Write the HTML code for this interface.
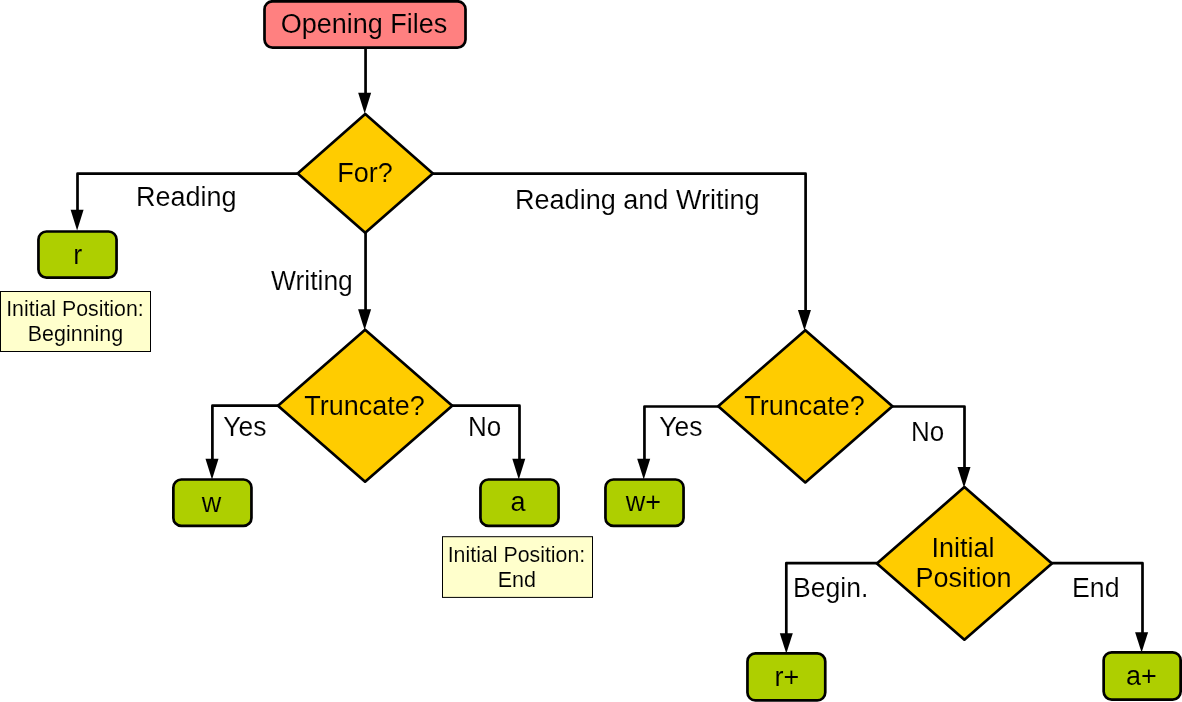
<!DOCTYPE html>
<html><head><meta charset="utf-8"><title>Opening Files</title>
<style>
html,body{margin:0;padding:0;background:#fff;}
body{width:1182px;height:702px;overflow:hidden;}
svg{display:block;will-change:transform;}
text{font-family:"Liberation Sans",sans-serif;fill:#000;}
</style></head><body>
<svg width="1182" height="702" viewBox="0 0 1182 702">
<rect x="0" y="0" width="1182" height="702" fill="#fff"/>
<polyline points="365.56,48 365.56,100" fill="none" stroke="#000" stroke-width="2.7" stroke-linejoin="round"/>
<polygon points="358.15,92.80 371.15,92.80 364.65,113.40" fill="#000"/>
<polyline points="297,173.7 77.5,173.7 77.5,215" fill="none" stroke="#000" stroke-width="2.7" stroke-linejoin="round"/>
<polygon points="70.60,209.80 83.60,209.80 77.10,230.40" fill="#000"/>
<polyline points="365.56,232 365.56,315" fill="none" stroke="#000" stroke-width="2.7" stroke-linejoin="round"/>
<polygon points="358.10,309.30 371.10,309.30 364.60,329.90" fill="#000"/>
<polyline points="433,173.7 805.6,173.7 805.6,315" fill="none" stroke="#000" stroke-width="2.7" stroke-linejoin="round"/>
<polygon points="797.95,310.00 810.95,310.00 804.45,330.60" fill="#000"/>
<polyline points="278,405.7 212.4,405.7 212.4,465" fill="none" stroke="#000" stroke-width="2.7" stroke-linejoin="round"/>
<polygon points="205.50,458.80 218.50,458.80 212.00,479.40" fill="#000"/>
<polyline points="452,405.7 519.5,405.7 519.5,465" fill="none" stroke="#000" stroke-width="2.7" stroke-linejoin="round"/>
<polygon points="512.30,458.80 525.30,458.80 518.80,479.40" fill="#000"/>
<polyline points="718,406.5 644.45,406.5 644.45,465" fill="none" stroke="#000" stroke-width="2.7" stroke-linejoin="round"/>
<polygon points="637.20,458.80 650.20,458.80 643.70,479.40" fill="#000"/>
<polyline points="892,406.5 964.5,406.5 964.5,472" fill="none" stroke="#000" stroke-width="2.7" stroke-linejoin="round"/>
<polygon points="957.50,467.10 970.50,467.10 964.00,487.70" fill="#000"/>
<polyline points="877,563.2 786.3,563.2 786.3,640" fill="none" stroke="#000" stroke-width="2.7" stroke-linejoin="round"/>
<polygon points="779.80,633.20 792.80,633.20 786.30,653.40" fill="#000"/>
<polyline points="1051,563.2 1142.5,563.2 1142.5,638" fill="none" stroke="#000" stroke-width="2.7" stroke-linejoin="round"/>
<polygon points="1135.10,632.30 1148.10,632.30 1141.60,652.50" fill="#000"/>
<rect x="264.5" y="1.3" width="201" height="46.3" rx="8" ry="8" fill="#ff8080" stroke="#000" stroke-width="2.7"/>
<text x="364" y="33" font-size="27" text-anchor="middle" stroke="#ff8080" stroke-width="0.12">Opening Files</text>
<polygon points="365.25,114.0 432.85,173.4 365.25,232.8 297.65,173.4" fill="#ffcc00" stroke="#000" stroke-width="2.7" stroke-linejoin="round"/>
<text x="365" y="182" font-size="27" text-anchor="middle" stroke="#ffcc00" stroke-width="0.12">For?</text>
<polygon points="365.1,329.7 452.20000000000005,405.7 365.1,481.7 278.0,405.7" fill="#ffcc00" stroke="#000" stroke-width="2.7" stroke-linejoin="round"/>
<text x="364.5" y="415" font-size="27" text-anchor="middle" stroke="#ffcc00" stroke-width="0.12">Truncate?</text>
<polygon points="805.3,330.20000000000005 892.4,406.3 805.3,482.4 718.1999999999999,406.3" fill="#ffcc00" stroke="#000" stroke-width="2.7" stroke-linejoin="round"/>
<text x="804.5" y="415" font-size="27" text-anchor="middle" stroke="#ffcc00" stroke-width="0.12">Truncate?</text>
<polygon points="964.4,487.09999999999997 1051.9,563.4 964.4,639.6999999999999 876.9,563.4" fill="#ffcc00" stroke="#000" stroke-width="2.7" stroke-linejoin="round"/>
<text x="963" y="556.7" font-size="27" text-anchor="middle" stroke="#ffcc00" stroke-width="0.12">Initial</text>
<text x="963.5" y="587.4" font-size="27" text-anchor="middle" stroke="#ffcc00" stroke-width="0.12">Position</text>
<rect x="38.45" y="231.50" width="78.1" height="46.1" rx="8" ry="8" fill="#aecf00" stroke="#000" stroke-width="2.7"/>
<text x="77.8" y="264.3" font-size="27" text-anchor="middle" stroke="#aecf00" stroke-width="0.12">r</text>
<rect x="173.35" y="479.50" width="78.1" height="46.4" rx="8" ry="8" fill="#aecf00" stroke="#000" stroke-width="2.7"/>
<text x="211.4" y="511.8" font-size="27" text-anchor="middle" stroke="#aecf00" stroke-width="0.12">w</text>
<rect x="480.45" y="479.50" width="78.1" height="46.4" rx="8" ry="8" fill="#aecf00" stroke="#000" stroke-width="2.7"/>
<text x="518" y="510.8" font-size="27" text-anchor="middle" stroke="#aecf00" stroke-width="0.12">a</text>
<rect x="605.45" y="479.50" width="78.1" height="46.4" rx="8" ry="8" fill="#aecf00" stroke="#000" stroke-width="2.7"/>
<text x="643.5" y="510.8" font-size="27" text-anchor="middle" stroke="#aecf00" stroke-width="0.12">w+</text>
<rect x="747.45" y="653.45" width="77.8" height="47.0" rx="8" ry="8" fill="#aecf00" stroke="#000" stroke-width="2.7"/>
<text x="786.9" y="685.8" font-size="27" text-anchor="middle" stroke="#aecf00" stroke-width="0.12">r+</text>
<rect x="1103.65" y="652.30" width="77.0" height="47.3" rx="8" ry="8" fill="#aecf00" stroke="#000" stroke-width="2.7"/>
<text x="1141.3" y="684.8" font-size="27" text-anchor="middle" stroke="#aecf00" stroke-width="0.12">a+</text>
<rect x="0.5" y="291.5" width="150" height="60" fill="#ffffcc" stroke="#000" stroke-width="1"/><text x="75.0" y="315.8" font-size="21.5" text-anchor="middle" textLength="137.6" lengthAdjust="spacingAndGlyphs" stroke="#ffffcc" stroke-width="0.10">Initial Position:</text><text x="75.5" y="341.1" font-size="21.5" text-anchor="middle" textLength="95.5" lengthAdjust="spacingAndGlyphs" stroke="#ffffcc" stroke-width="0.10">Beginning</text>
<rect x="442.5" y="536.7" width="150" height="60.7" fill="#ffffcc" stroke="#000" stroke-width="1"/><text x="516.5" y="562" font-size="21.5" text-anchor="middle" textLength="137.6" lengthAdjust="spacingAndGlyphs" stroke="#ffffcc" stroke-width="0.10">Initial Position:</text><text x="516.8" y="587.4" font-size="21.5" text-anchor="middle" stroke="#ffffcc" stroke-width="0.10">End</text>
<text x="136" y="206" font-size="27" text-anchor="start" stroke="#fff" stroke-width="0.12">Reading</text>
<text x="271" y="290" font-size="27" text-anchor="start" textLength="81.8" lengthAdjust="spacingAndGlyphs" stroke="#fff" stroke-width="0.12">Writing</text>
<text x="515" y="208.8" font-size="27" text-anchor="start" textLength="244.6" lengthAdjust="spacingAndGlyphs" stroke="#fff" stroke-width="0.12">Reading and Writing</text>
<text x="223.2" y="436" font-size="27" text-anchor="start" textLength="43.2" lengthAdjust="spacingAndGlyphs" stroke="#fff" stroke-width="0.12">Yes</text>
<text x="468.0" y="436" font-size="27" text-anchor="start" textLength="33.2" lengthAdjust="spacingAndGlyphs" stroke="#fff" stroke-width="0.12">No</text>
<text x="659.2" y="436" font-size="27" text-anchor="start" textLength="43.2" lengthAdjust="spacingAndGlyphs" stroke="#fff" stroke-width="0.12">Yes</text>
<text x="911" y="441" font-size="27" text-anchor="start" textLength="33.2" lengthAdjust="spacingAndGlyphs" stroke="#fff" stroke-width="0.12">No</text>
<text x="793" y="597" font-size="27" text-anchor="start" textLength="75.4" lengthAdjust="spacingAndGlyphs" stroke="#fff" stroke-width="0.12">Begin.</text>
<text x="1072" y="597" font-size="27" text-anchor="start" textLength="47.5" lengthAdjust="spacingAndGlyphs" stroke="#fff" stroke-width="0.12">End</text>
</svg>
</body></html>
